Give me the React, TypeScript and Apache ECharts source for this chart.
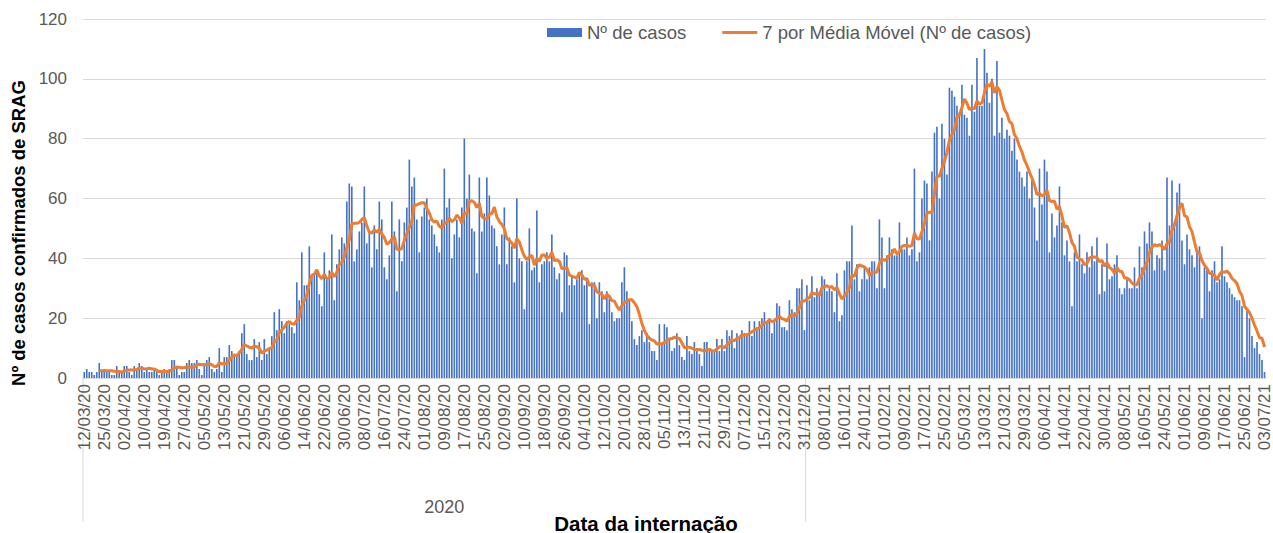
import React, { useEffect, useRef } from "react";
import * as echarts from "echarts";

// Early reporting days (before daily continuity begins)
const EARLY_DATES = ["12/03/20", "13/03/20", "16/03/20", "17/03/20", "18/03/20", "19/03/20", "20/03/20", "23/03/20"];
// Continuous daily range afterwards, with one missing day
const RANGE_START = "2020-03-25";
const RANGE_END = "2021-07-03";
const SKIPPED_DATES = ["2020-04-12"];

const YEAR_LABEL = "2020";
const FIRST_DAY_2021 = "01/01/21";

// Daily cases (Nº de casos)
const CASES: number[] = [
  // 12/03/20 ..
  2, 3, 2, 2, 1, 2, 5, 2, 3, 2, 2, 1, 1, 4, 2, 2, 4, 4, 2, 1, 4, 3, 5, 4, 2, 3, 2, 2, 3, 2, 1, 2, 3, 2, 3, 6, 6, 4,
  1, 2, 2, 5, 6, 5, 5, 6, 3, 1, 5, 6, 7, 3, 2, 3, 10, 2, 7, 7, 11, 9, 8, 8, 9, 15, 18, 8, 6, 6, 13, 7, 12, 6, 13, 8, 10, 14, 22, 16,
  23, 19, 15, 19, 18, 17, 15, 32, 26, 42, 31, 31, 44, 34, 35, 36, 28, 24, 42, 33, 36, 48, 26, 38, 43, 47, 45, 59, 65, 64, 39, 43, 49, 52, 64, 45, 49, 37, 51, 43,
  59, 53, 37, 33, 41, 59, 49, 29, 53, 39, 52, 57, 73, 64, 67, 53, 42, 54, 57, 60, 53, 51, 48, 44, 42, 53, 70, 57, 60, 40, 48, 53, 47, 57, 80, 60, 68, 50, 49, 35,
  67, 49, 55, 67, 61, 51, 50, 44, 38, 48, 57, 38, 47, 44, 32, 60, 40, 39, 23, 39, 50, 36, 37, 56, 32, 38, 39, 42, 39, 48, 37, 33, 35, 22, 42, 41, 31, 34,
  31, 33, 35, 36, 31, 33, 18, 32, 32, 20, 32, 29, 22, 29, 27, 22, 19, 20, 20, 32, 37, 29, 26, 19, 13, 11, 14, 16, 12, 15, 12, 9, 9, 6, 18, 11, 18, 17, 13, 9, 10,
  15, 11, 7, 6, 14, 9, 8, 12, 10, 8, 4, 12, 12, 9, 9, 9, 13, 9, 13, 9, 16, 14, 16, 10, 15, 14, 16, 15, 15, 19, 14, 19, 17, 19, 20, 22, 19, 20, 15, 19,
  25, 24, 17, 17, 16, 26, 23, 22, 30, 30, 33, 16, 31, 26, 34, 27, 30, 29, 34, 33, 29, 30, 29, 22, 35, 19, 21, 36, 39, 39, 51, 33, 38, 29, 33, 37, 33, 37, 39,
  39, 30, 53, 47, 30, 41, 47, 43, 41, 41, 52, 43, 43, 47, 41, 43, 70, 39, 42, 60, 66, 65, 46, 69, 82, 84, 60, 85, 80, 68, 97, 96, 94, 91, 89, 98, 88, 87, 81,
  98, 89, 107, 91, 91, 110, 102, 92, 100, 81, 106, 82, 87, 80, 83, 81, 76, 80, 73, 69, 67, 64, 69, 60, 66, 57, 46, 70, 58, 73, 69, 42, 55, 47, 51, 64, 52, 41, 46, 39, 24,
  42, 39, 48, 38, 35, 42, 37, 44, 39, 47, 28, 38, 29, 45, 33, 34, 38, 41, 30, 28, 30, 33, 30, 30, 37, 30, 44, 37, 49, 45, 52, 49, 36, 41, 40, 46, 36, 67, 51, 66, 52,
  62, 65, 46, 38, 48, 43, 41, 37, 42, 44, 20, 37, 36, 29, 36, 39, 32, 33, 44, 34, 32, 30, 28, 27, 26, 26, 24, 7, 23, 20, 14, 10, 12, 8, 6, 2,
];

const MA_PERIOD = 7;
const BAR_NAME = "Nº de casos";
const LINE_NAME = "7 por Média Móvel (Nº de casos)";
const Y_TITLE = "Nº de casos confirmados de SRAG";
const X_TITLE = "Data da internação";

const FONT = "'Liberation Sans', Arial, sans-serif";

function fmt(d: Date): string {
  const dd = String(d.getUTCDate()).padStart(2, "0");
  const mm = String(d.getUTCMonth() + 1).padStart(2, "0");
  const yy = String(d.getUTCFullYear()).slice(2);
  return `${dd}/${mm}/${yy}`;
}

function buildDates(): string[] {
  const out = [...EARLY_DATES];
  const end = new Date(RANGE_END + "T00:00:00Z").getTime();
  for (let t = new Date(RANGE_START + "T00:00:00Z").getTime(); t <= end; t += 86400000) {
    const d = new Date(t);
    const iso = d.toISOString().slice(0, 10);
    if (SKIPPED_DATES.includes(iso)) continue;
    out.push(fmt(d));
  }
  return out;
}

// Excel-style trailing moving average trendline of the bar data
function movingAverage(values: number[], period: number): (number | null)[] {
  return values.map((_, i) => {
    if (i < period - 1) return null;
    let s = 0;
    for (let k = i - period + 1; k <= i; k++) s += values[k];
    return +(s / period).toFixed(2);
  });
}

export default function App() {
  const ref = useRef<HTMLDivElement>(null);

  useEffect(() => {
    if (!ref.current) return;
    const chart = echarts.init(ref.current, undefined, { renderer: "svg" });
    const dates = buildDates();
    const ma = movingAverage(CASES, MA_PERIOD);

    chart.setOption({
      animation: false,
      backgroundColor: "#ffffff",
      textStyle: { fontFamily: FONT },
      grid: { left: 83, right: 3, top: 19, bottom: 155, containLabel: false },
      legend: {
        left: 547,
        top: 23,
        padding: 0,
        itemWidth: 35,
        itemHeight: 9,
        itemGap: 36,
        symbolKeepAspect: true,
        textStyle: { fontSize: 18.5, color: "#595959", fontFamily: FONT },
        data: [
          { name: BAR_NAME, icon: "rect" },
          { name: LINE_NAME, icon: "path://M0,0 L35,0 L35,3 L0,3 Z" },
        ],
      },
      xAxis: {
        type: "category",
        data: dates,
        boundaryGap: true,
        axisTick: { show: false },
        axisLine: { lineStyle: { color: "#d9d9d9", width: 1 } },
        axisLabel: {
          interval: 7,
          rotate: 90,
          fontSize: 17,
          color: "#595959",
          margin: 6,
          fontFamily: FONT,
        },
        splitLine: { show: false },
      },
      yAxis: {
        type: "value",
        min: 0,
        max: 120,
        interval: 20,
        axisLine: { show: false },
        axisTick: { show: false },
        axisLabel: { fontSize: 17, color: "#595959", margin: 16, fontFamily: FONT },
        splitLine: { lineStyle: { color: "#d9d9d9", width: 1 } },
      },
      series: [
        {
          name: BAR_NAME,
          type: "bar",
          data: CASES,
          barCategoryGap: "35%",
          itemStyle: { color: "#4472C4" },
        },
        {
          name: LINE_NAME,
          type: "line",
          data: ma,
          symbol: "none",
          showSymbol: false,
          connectNulls: false,
          lineStyle: { color: "#ED7D31", width: 3 },
          itemStyle: { color: "#ED7D31" },
          z: 5,
        },
      ],
    });

    const c0 = chart.convertToPixel({ xAxisIndex: 0 }, 0) as number;
    const c1 = chart.convertToPixel({ xAxisIndex: 0 }, 1) as number;
    const bw = c1 - c0;
    const leftB = c0 - bw / 2;
    const yi = dates.indexOf(FIRST_DAY_2021);
    const yearB = (chart.convertToPixel({ xAxisIndex: 0 }, yi) as number) - bw / 2;
    const axisY = chart.convertToPixel({ yAxisIndex: 0 }, 0) as number;

    chart.setOption({
      graphic: [
        {
          type: "line",
          shape: { x1: leftB, y1: axisY, x2: leftB, y2: 522 },
          style: { stroke: "#d9d9d9", lineWidth: 1 },
        },
        {
          type: "line",
          shape: { x1: yearB, y1: axisY, x2: yearB, y2: 522 },
          style: { stroke: "#d9d9d9", lineWidth: 1 },
        },
        {
          type: "text",
          x: (leftB + yearB) / 2,
          y: 507,
          style: {
            text: YEAR_LABEL,
            fontSize: 18,
            fontFamily: FONT,
            fill: "#595959",
            align: "center",
            verticalAlign: "middle",
            textAlign: "center",
            textVerticalAlign: "middle",
          },
        },
        {
          type: "text",
          x: 646,
          y: 523,
          style: {
            text: X_TITLE,
            fontSize: 20.5,
            fontWeight: "bold",
            fontFamily: FONT,
            fill: "#000000",
            align: "center",
            verticalAlign: "middle",
            textAlign: "center",
            textVerticalAlign: "middle",
          },
        },
        {
          type: "text",
          x: 18,
          y: 233,
          rotation: Math.PI / 2,
          style: {
            text: Y_TITLE,
            fontSize: 18.5,
            fontWeight: "bold",
            fontFamily: FONT,
            fill: "#000000",
            align: "center",
            verticalAlign: "middle",
            textAlign: "center",
            textVerticalAlign: "middle",
          },
        },
      ],
    });

    return () => chart.dispose();
  }, []);

  return (
    <div
      ref={ref}
      style={{ position: "fixed", left: 0, top: 0, width: 1273, height: 533, background: "#fff" }}
    />
  );
}
